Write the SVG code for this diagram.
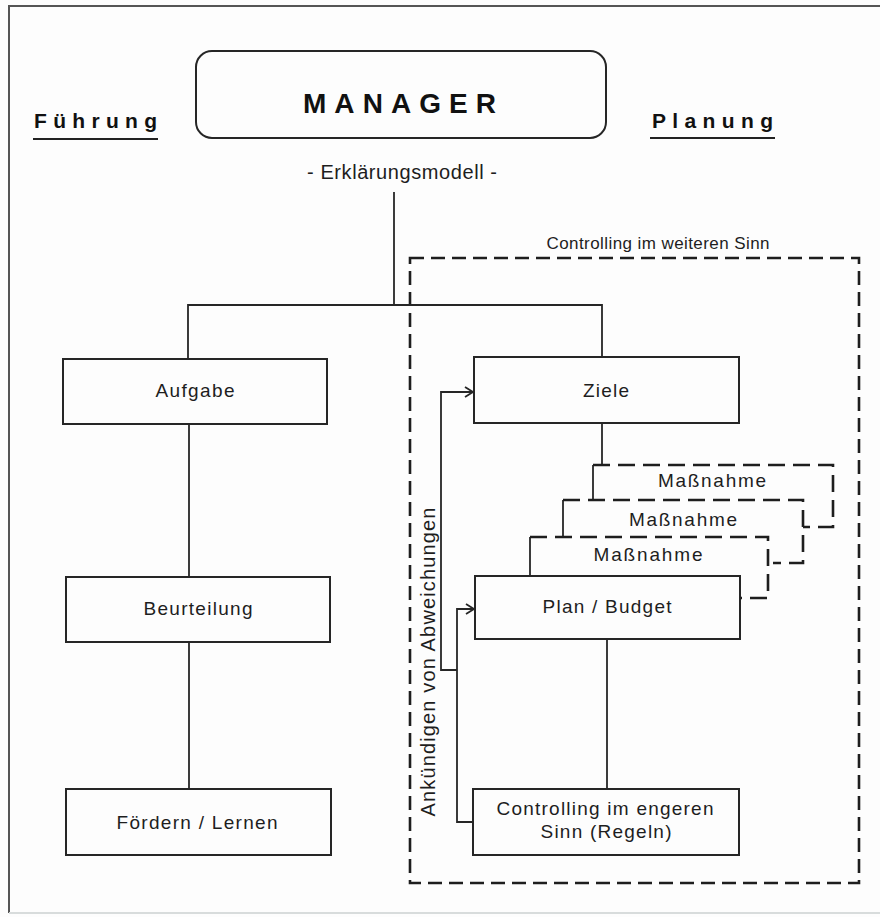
<svg xmlns="http://www.w3.org/2000/svg" width="880" height="917" viewBox="0 0 880 917">
  <style>
    .bg { fill: #fdfdfd; }
    .box { fill: none; stroke: #262626; stroke-width: 2; }
    .line { fill: none; stroke: #262626; stroke-width: 1.8; }
    .dash { fill: none; stroke: #1e1e1e; stroke-width: 2.6; stroke-dasharray: 14 7; }
    .mdash { fill: none; stroke: #1e1e1e; stroke-width: 2.6; stroke-dasharray: 17 8; }
    .t { font-family: "Liberation Sans", Arial, sans-serif; fill: #1e1e1e; text-anchor: middle; }
    .lbl { font-size: 19px; }
    .head { font-family: "Liberation Sans", Arial, sans-serif; font-weight: bold; fill: #111; }
  </style>
  <defs>
    <marker id="open" markerWidth="12" markerHeight="12" refX="10" refY="6" orient="auto" markerUnits="userSpaceOnUse">
      <path d="M2,1 L10,6 L2,11" fill="none" stroke="#262626" stroke-width="1.8"/>
    </marker>
  </defs>

  <rect class="bg" x="0" y="0" width="880" height="917"/>
  <!-- page frame -->
  <path d="M9,913 L9,6 L880,6" fill="none" stroke="#555" stroke-width="2"/>
  <path d="M9,913 L880,913" fill="none" stroke="#d8dcdc" stroke-width="2"/>

  <!-- title -->
  <g id="manager">
    <rect class="box" x="196" y="51" width="410" height="87" rx="16" ry="16"/>
    <text class="head" x="303" y="113" font-size="28" textLength="193" lengthAdjust="spacing">MANAGER</text>
  </g>
  <g id="fuehrung">
    <text class="head" x="34" y="128" font-size="21" textLength="123" lengthAdjust="spacing">Führung</text>
    <line x1="33" y1="139" x2="158" y2="139" stroke="#222" stroke-width="2"/>
  </g>
  <g id="planung">
    <text class="head" x="652" y="128" font-size="21" textLength="121" lengthAdjust="spacing">Planung</text>
    <line x1="650" y1="138" x2="775" y2="138" stroke="#222" stroke-width="2"/>
  </g>
  <g id="erklaerungsmodell">
    <text class="t" x="402" y="179" font-size="20" textLength="190" lengthAdjust="spacing">- Erklärungsmodell -</text>
  </g>

  <!-- controlling in the wider sense -->
  <g id="controlling-weiter">
    <rect class="dash" x="410" y="258" width="449" height="625"/>
    <text class="t" x="658" y="249" font-size="17" textLength="223" lengthAdjust="spacing">Controlling im weiteren Sinn</text>
  </g>

  <!-- connectors -->
  <g id="connectors">
    <path class="line" d="M394,192 L394,305"/>
    <path class="line" d="M188,359 L188,305 L602,305 L602,357"/>
    <path class="line" d="M189,424 L189,577"/>
    <path class="line" d="M189,642 L189,789"/>
    <path class="line" d="M602,423 L602,465"/>
    <path class="line" d="M607,639 L607,789"/>
    <path class="line" d="M473,822 L457,822 L457,609 L474,609" marker-end="url(#open)"/>
    <path class="line" d="M457,670 L441,670 L441,392 L473,392" marker-end="url(#open)"/>
  </g>

  <!-- left column -->
  <g id="aufgabe">
    <rect class="box" x="63" y="359" width="264" height="65"/>
    <text class="t lbl" x="195" y="397" textLength="79" lengthAdjust="spacing">Aufgabe</text>
  </g>
  <g id="beurteilung">
    <rect class="box" x="66" y="577" width="264" height="65"/>
    <text class="t lbl" x="198" y="615" textLength="109" lengthAdjust="spacing">Beurteilung</text>
  </g>
  <g id="foerdern">
    <rect class="box" x="66" y="789" width="265" height="66"/>
    <text class="t lbl" x="197" y="829" textLength="161" lengthAdjust="spacing">Fördern / Lernen</text>
  </g>

  <!-- right column -->
  <g id="ziele">
    <rect class="box" x="474" y="357" width="265" height="66"/>
    <text class="t lbl" x="606" y="397" textLength="46" lengthAdjust="spacing">Ziele</text>
  </g>

  <!-- stacked measures -->
  <g id="massnahme-1">
    <path class="line" d="M593,465 L593,500"/>
    <path class="mdash" d="M593,465 L833,465 L833,527 L803,527"/>
    <text class="t lbl" x="712" y="487" textLength="108" lengthAdjust="spacing">Maßnahme</text>
  </g>
  <g id="massnahme-2">
    <path class="line" d="M563,500 L563,537"/>
    <path class="mdash" d="M563,500 L803,500 L803,563 L773,563"/>
    <text class="t lbl" x="683" y="526" textLength="108" lengthAdjust="spacing">Maßnahme</text>
  </g>
  <g id="massnahme-3">
    <path class="line" d="M530,537 L530,576"/>
    <path class="mdash" d="M530,537 L768,537 L768,598 L740,598"/>
    <text class="t lbl" x="648" y="561" textLength="109" lengthAdjust="spacing">Maßnahme</text>
  </g>

  <g id="plan-budget">
    <rect class="box" x="475" y="576" width="265" height="63"/>
    <text class="t lbl" x="607" y="613" textLength="129" lengthAdjust="spacing">Plan / Budget</text>
  </g>
  <g id="controlling-enger">
    <rect class="box" x="473" y="789" width="266" height="66"/>
    <text class="t lbl" x="605" y="815" textLength="217" lengthAdjust="spacing">Controlling im engeren</text>
    <text class="t lbl" x="606" y="838" textLength="131" lengthAdjust="spacing">Sinn (Regeln)</text>
  </g>

  <g id="abweichungen">
    <text class="t" font-size="20" transform="translate(435,662) rotate(-90)" x="0" y="0" textLength="309" lengthAdjust="spacing">Ankündigen von Abweichungen</text>
  </g>
</svg>
